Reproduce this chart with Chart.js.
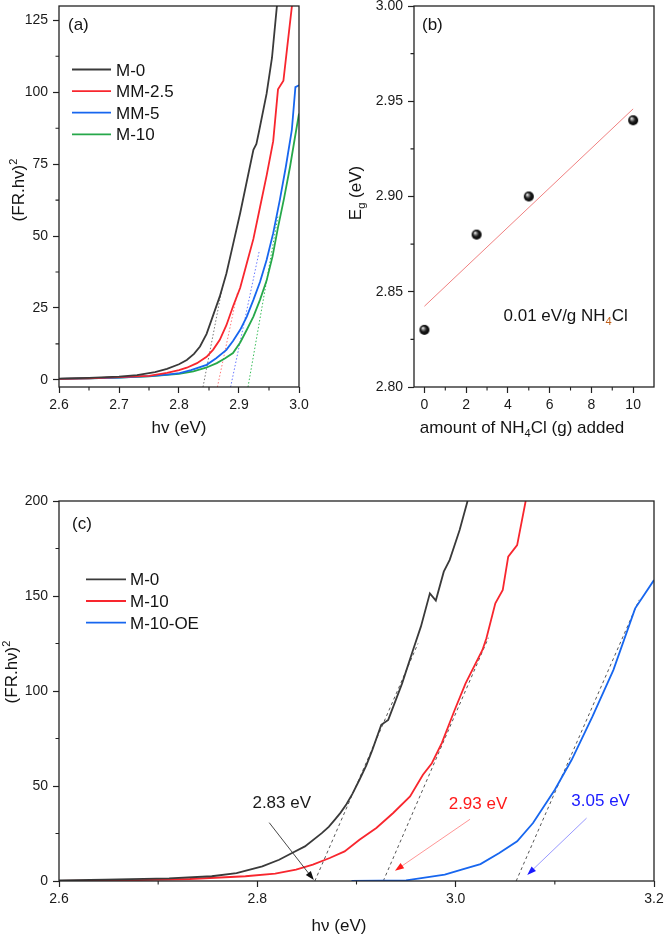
<!DOCTYPE html>
<html><head><meta charset="utf-8">
<script src="https://cdn.jsdelivr.net/npm/chart.js"></script>
<style>
html,body{margin:0;padding:0;background:#fff;}
#wrap{position:relative;width:664px;height:939px;overflow:hidden;background:#fff;}
canvas{position:absolute;}
</style></head><body>
<div id="wrap">
<canvas id="ca" width="332" height="440" style="left:0;top:0;width:332px;height:440px"></canvas>
<canvas id="cb" width="332" height="440" style="left:332px;top:0;width:332px;height:440px"></canvas>
<canvas id="cc" width="664" height="499" style="left:0;top:440px;width:664px;height:499px"></canvas>
</div>
<script>
// ================= DATA =================
// ---- Panel (a): (FR.hv)^2 vs hv ----
const aX_M0   = [2.600,2.650,2.700,2.730,2.760,2.780,2.800,2.813,2.825,2.835,2.846,2.857,2.868,2.879,2.890,2.902,2.914,2.924,2.929,2.933,2.946,2.955,2.963,2.970];
const aY_M0   = [0.4,0.7,1.1,1.6,2.7,3.8,5.4,6.9,9.0,11.6,16.0,22.5,29.0,37.0,47.0,58.0,70.0,80.0,82.0,86.0,99.5,112.0,129.6,140.0];
const aX_MM25 = [2.600,2.650,2.700,2.750,2.780,2.800,2.813,2.830,2.846,2.857,2.868,2.879,2.890,2.902,2.913,2.924,2.935,2.946,2.957,2.965,2.974,2.980,2.988,2.995];
const aY_MM25 = [0.3,0.5,0.9,1.4,2.4,3.4,4.2,5.8,8.0,10.5,13.9,19.0,25.5,32.0,40.5,49.0,60.0,71.0,83.0,101.0,104.0,115.0,129.6,140.0];
const aX_MM5  = [2.600,2.650,2.700,2.750,2.780,2.801,2.820,2.846,2.862,2.879,2.890,2.902,2.913,2.924,2.935,2.946,2.957,2.968,2.978,2.988,2.994,3.000];
const aY_MM5  = [0.3,0.5,0.8,1.3,1.8,2.3,3.4,5.2,7.5,10.4,13.5,17.4,22.0,27.8,34.0,41.7,51.0,62.5,74.0,86.8,101.8,102.4];
const aX_M10  = [2.600,2.650,2.700,2.750,2.800,2.824,2.845,2.863,2.877,2.890,2.902,2.913,2.924,2.935,2.946,2.956,2.965,2.975,2.985,2.993,3.000];
const aY_M10  = [0.3,0.5,0.8,1.2,2.1,2.9,4.2,5.8,7.5,9.3,13.0,17.4,22.0,27.8,34.5,43.0,53.0,63.0,74.0,84.0,92.6];
// linear extrapolation lines (a)
const aTanX_M0   = [2.840, 2.872]; const aTanY_M0   = [-2.5, 32];
const aTanX_MM25 = [2.864, 2.897]; const aTanY_MM25 = [-2.5, 30];
const aTanX_MM5  = [2.886, 2.934]; const aTanY_MM5  = [-2.5, 45];
const aTanX_M10  = [2.915, 2.965]; const aTanY_M10  = [-2.5, 57];
const aTicksX = [2.6,2.7,2.8,2.9,3.0];
const aMinorX = [2.65,2.75,2.85,2.95];
const aTicksY = [0,25,50,75,100,125];
const aMinorY = [12.5,37.5,62.5,87.5,112.5];
const aLabels = ['M-0','MM-2.5','MM-5','M-10'];

// ---- Panel (b): Eg vs amount of NH4Cl ----
const bAmount = [0, 2.5, 5, 10];
const bEg     = [2.83, 2.88, 2.90, 2.94];
const bFitX   = [0, 10];
const bFitY   = [2.8424, 2.946];
const bTicksX = [0,2,4,6,8,10];
const bMinorX = [1,3,5,7,9];
const bTicksY = [2.80,2.85,2.90,2.95,3.00];
const bMinorY = [2.825,2.875,2.925,2.975];

// ---- Panel (c): (FR.hν)^2 vs hν ----
const cX_M0   = [2.600,2.647,2.711,2.754,2.779,2.805,2.822,2.835,2.848,2.865,2.872,2.878,2.884,2.890,2.896,2.903,2.910,2.916,2.925,2.932,2.946,2.957,2.965,2.974,2.980,2.988,2.994,3.004,3.012];
const cY_M0   = [0.35,0.7,1.4,2.5,4.2,7.7,11.2,14.7,18.2,25.2,28.5,32.2,36.0,40.5,46.0,53.3,61.0,69.0,82.2,84.8,104.0,121.6,134.0,151.4,147.6,162.8,169.0,184.7,200.0];
const cX_M10  = [2.600,2.668,2.732,2.788,2.818,2.839,2.856,2.873,2.888,2.903,2.920,2.937,2.954,2.967,2.976,2.986,2.999,3.010,3.027,3.031,3.040,3.0475,3.053,3.062,3.0706];
const cY_M10  = [0.0,0.35,1.05,2.5,3.9,6.0,8.6,12.1,15.6,21.7,27.9,35.8,44.5,55.9,62.0,72.6,90.0,104.0,121.6,127.8,146.2,153.2,170.7,176.8,200.0];
const cX_OE   = [2.895,2.950,2.967,2.989,3.006,3.025,3.044,3.062,3.078,3.100,3.117,3.138,3.159,3.181,3.200];
const cY_OE   = [0.0,0.35,1.6,3.3,6.0,8.9,14.7,20.9,30.5,48.0,63.8,86.6,111.0,143.5,158.4];
const cTanX_M0  = [2.858, 2.962]; const cTanY_M0  = [0, 125];
const cTanX_M10 = [2.927, 3.033]; const cTanY_M10 = [0, 128];
const cTanX_OE  = [3.061, 3.185]; const cTanY_OE  = [0, 148];
// arrows: [x, y] start and tip in data units
const cArrowFrom = [[2.812, 30.7], [3.0145, 32.5], [3.132, 33.1]];
const cArrowTo   = [[2.857, 0.5],  [2.9388, 5.4],  [3.0722, 3.2]];
const cGapLabels = ['2.83 eV', '2.93 eV', '3.05 eV'];
const cGapLabelAt = [[2.8246, 41.7], [3.0225, 41.2], [3.1462, 42.6]];
const cTicksX = [2.6,2.8,3.0,3.2];
const cMinorX = [2.7,2.9,3.1];
const cTicksY = [0,50,100,150,200];
const cMinorY = [25,75,125,175];
const cLabels = ['M-0','M-10','M-10-OE'];

// ================= STYLE / HELPERS =================
const FAM = "'Liberation Sans', Arial, sans-serif";
Chart.defaults.font.family = FAM;
Chart.defaults.color = '#1a1a1a';
const COL = {k:'#3a3a3a', r:'#f8262e', b:'#1766ef', g:'#26a84a'};
const pts = (xs, ys) => xs.map((x, i) => ({x: x, y: ys[i]}));
function font(sz){ return sz + 'px ' + FAM; }

function curve(label, xs, ys, color, w) {
  return {label, data: pts(xs, ys), showLine: true, borderColor: color, backgroundColor: color,
          borderWidth: w || 1.8, pointRadius: 0, tension: 0, fill: false};
}
function dashed(xs, ys, color, dash, w) {
  return {label: '_tan', data: pts(xs, ys), showLine: true, borderColor: color, borderWidth: w || 1,
          borderDash: dash, pointRadius: 0, tension: 0, fill: false};
}
function axis(pos, min, max, ticks, fmt, size) {
  return {
    type: 'linear', position: pos, min: min, max: max,
    afterBuildTicks: s => { s.ticks = ticks.map(v => ({value: v})); },
    afterFit: s => {
      if (pos === 'bottom') s.height = size; else s.width = size;
      s.paddingTop = 0; s.paddingBottom = 0; s.paddingLeft = 0; s.paddingRight = 0;
    },
    grid: {display: true, drawOnChartArea: false, drawTicks: true, tickLength: 6,
           tickColor: '#222', tickWidth: 1.2, color: '#222'},
    border: {display: false},
    ticks: {padding: pos === 'bottom' ? 4 : 5, color: '#1a1a1a', font: {size: 14},
            maxRotation: 0, autoSkip: false, callback: v => fmt(v)},
    title: {display: false}
  };
}
function drawRich(ctx, segs, x, y, size, align, rot) {
  ctx.save(); ctx.translate(x, y); if (rot) ctx.rotate(rot);
  let w = 0;
  const parts = segs.map(s => {
    const sz = (s.sub || s.sup) ? size * 0.65 : size;
    ctx.font = font(sz);
    const mw = ctx.measureText(s.t).width; w += mw;
    return {s, sz, mw};
  });
  let cx = align === 'center' ? -w / 2 : (align === 'right' ? -w : 0);
  ctx.textBaseline = 'alphabetic'; ctx.textAlign = 'left';
  const base = size * 0.36;
  for (const p of parts) {
    ctx.font = font(p.sz); ctx.fillStyle = p.s.color || '#141414';
    const dy = p.s.sub ? size * 0.24 : (p.s.sup ? -size * 0.42 : 0);
    ctx.fillText(p.s.t, cx, base + dy); cx += p.mw;
  }
  ctx.restore();
}
function arrow(ctx, x1, y1, x2, y2, lineCol, headCol) {
  const a = Math.atan2(y2 - y1, x2 - x1), L = 9, W = 3.2;
  ctx.save();
  ctx.strokeStyle = lineCol; ctx.lineWidth = 0.9;
  ctx.beginPath(); ctx.moveTo(x1, y1);
  ctx.lineTo(x2 - Math.cos(a) * L * 0.8, y2 - Math.sin(a) * L * 0.8); ctx.stroke();
  ctx.fillStyle = headCol; ctx.beginPath();
  ctx.moveTo(x2, y2);
  ctx.lineTo(x2 - L * Math.cos(a) + W * Math.sin(a), y2 - L * Math.sin(a) - W * Math.cos(a));
  ctx.lineTo(x2 - L * Math.cos(a) - W * Math.sin(a), y2 - L * Math.sin(a) + W * Math.cos(a));
  ctx.closePath(); ctx.fill();
  ctx.restore();
}
function makeDeco(cfg) {
  return {
    id: 'deco',
    afterDatasetsDraw(chart) {
      const ctx = chart.ctx, ca = chart.chartArea, xs = chart.scales.x, ys = chart.scales.y;
      ctx.save();
      // frame
      ctx.strokeStyle = '#222'; ctx.lineWidth = 1.3;
      ctx.strokeRect(ca.left, ca.top, ca.right - ca.left, ca.bottom - ca.top);
      // minor ticks
      ctx.lineWidth = 1.1; ctx.beginPath();
      cfg.minorX.forEach(v => { const p = xs.getPixelForValue(v); ctx.moveTo(p, ca.bottom); ctx.lineTo(p, ca.bottom + 3.5); });
      cfg.minorY.forEach(v => { const p = ys.getPixelForValue(v); ctx.moveTo(ca.left, p); ctx.lineTo(ca.left - 3.5, p); });
      ctx.stroke();
      // arrows
      (cfg.arrows || []).forEach(a => {
        arrow(ctx, xs.getPixelForValue(a.from[0]), ys.getPixelForValue(a.from[1]),
              xs.getPixelForValue(a.to[0]), ys.getPixelForValue(a.to[1]), a.line, a.head);
      });
      // data-anchored texts
      (cfg.dataTexts || []).forEach(t => {
        drawRich(ctx, t.segs, xs.getPixelForValue(t.at[0]), ys.getPixelForValue(t.at[1]), t.size, t.align);
      });
      // pixel texts (titles, panel labels)
      (cfg.texts || []).forEach(t => drawRich(ctx, t.segs, t.x, t.y, t.size, t.align, t.rot));
      // legend
      if (cfg.legend) {
        const L = cfg.legend;
        L.items.forEach((di, i) => {
          const ds = chart.data.datasets[di]; const y = L.y0 + i * L.dy;
          ctx.strokeStyle = ds.borderColor; ctx.lineWidth = ds.borderWidth; ctx.setLineDash([]);
          ctx.beginPath(); ctx.moveTo(L.x1, y); ctx.lineTo(L.x2, y); ctx.stroke();
          drawRich(ctx, [{t: ds.label}], L.tx, y, L.size, 'left');
        });
      }
      ctx.restore();
    }
  };
}
const baseOpts = {responsive: false, animation: false, devicePixelRatio: 1,
  plugins: {legend: {display: false}, tooltip: {enabled: false}}};

// ================= PANEL (a) =================
new Chart(document.getElementById('ca'), {
  type: 'scatter',
  data: {datasets: [
    curve(aLabels[0], aX_M0, aY_M0, COL.k),
    curve(aLabels[1], aX_MM25, aY_MM25, COL.r),
    curve(aLabels[2], aX_MM5, aY_MM5, COL.b),
    curve(aLabels[3], aX_M10, aY_M10, COL.g),
    dashed(aTanX_M0, aTanY_M0, '#777', [1.5, 2]),
    dashed(aTanX_MM25, aTanY_MM25, '#f77', [1.5, 2]),
    dashed(aTanX_MM5, aTanY_MM5, '#67f', [1.5, 2]),
    dashed(aTanX_M10, aTanY_M10, '#3b5', [1.5, 2])
  ]},
  options: Object.assign({}, baseOpts, {
    layout: {padding: {left: 0, right: 33, top: 6, bottom: 0}},
    scales: {
      x: axis('bottom', 2.6, 3.0, aTicksX, v => v.toFixed(1), 53),
      y: axis('left', -2.5, 130, aTicksY, v => String(Math.round(v)), 59)
    }
  }),
  plugins: [makeDeco({
    minorX: aMinorX, minorY: aMinorY,
    texts: [
      {segs: [{t: '(a)'}], x: 68, y: 24, size: 17, align: 'left'},
      {segs: [{t: 'hv (eV)'}], x: 179, y: 427, size: 17, align: 'center'},
      {segs: [{t: '(FR.hv)'}, {t: '2', sup: true}], x: 18, y: 190, size: 17, align: 'center', rot: -Math.PI / 2}
    ],
    legend: {items: [0, 1, 2, 3], x1: 72, x2: 111, tx: 116, y0: 69.5, dy: 21.6, size: 17}
  })]
});

// ================= PANEL (b) =================
function makeSphere(r) {
  const c = document.createElement('canvas'); const s = Math.ceil(r * 2 + 2);
  c.width = s; c.height = s;
  const g = c.getContext('2d'); const cx = s / 2, cy = s / 2;
  const grad = g.createRadialGradient(cx - r * 0.35, cy - r * 0.4, 0.2, cx, cy, r);
  grad.addColorStop(0, '#ffffff'); grad.addColorStop(0.22, '#9a9a9a');
  grad.addColorStop(0.55, '#1e1e1e'); grad.addColorStop(1, '#000000');
  g.fillStyle = grad; g.beginPath(); g.arc(cx, cy, r, 0, Math.PI * 2); g.fill();
  return c;
}
new Chart(document.getElementById('cb'), {
  type: 'scatter',
  data: {datasets: [
    {label: 'fit', data: pts(bFitX, bFitY), showLine: true, borderColor: '#f08080', borderWidth: 1, pointRadius: 0},
    {label: 'Eg', data: pts(bAmount, bEg), showLine: false, pointStyle: makeSphere(5), pointRadius: 5}
  ]},
  options: Object.assign({}, baseOpts, {
    layout: {padding: {left: 0, right: 10, top: 6, bottom: 0}},
    scales: {
      x: axis('bottom', -0.5, 11, bTicksX, v => String(Math.round(v)), 53),
      y: axis('left', 2.80, 3.00, bTicksY, v => v.toFixed(2), 82)
    }
  }),
  plugins: [makeDeco({
    minorX: bMinorX, minorY: bMinorY,
    dataTexts: [
      {segs: [{t: '0.01 eV/g NH'}, {t: '4', sub: true, color: '#c0601a'}, {t: 'Cl'}], at: [3.79, 2.838], size: 17, align: 'left'}
    ],
    texts: [
      {segs: [{t: '(b)'}], x: 90, y: 24, size: 17, align: 'left'},
      {segs: [{t: 'amount of NH'}, {t: '4', sub: true}, {t: 'Cl (g) added'}], x: 190, y: 427, size: 17, align: 'center'},
      {segs: [{t: 'E'}, {t: 'g', sub: true}, {t: ' (eV)'}], x: 23, y: 193, size: 17, align: 'center', rot: -Math.PI / 2}
    ]
  })]
});

// ================= PANEL (c) =================
new Chart(document.getElementById('cc'), {
  type: 'scatter',
  data: {datasets: [
    curve(cLabels[0], cX_M0, cY_M0, COL.k),
    curve(cLabels[1], cX_M10, cY_M10, COL.r),
    curve(cLabels[2], cX_OE, cY_OE, COL.b),
    dashed(cTanX_M0, cTanY_M0, '#555', [3, 3]),
    dashed(cTanX_M10, cTanY_M10, '#555', [3, 3]),
    dashed(cTanX_OE, cTanY_OE, '#555', [3, 3])
  ]},
  options: Object.assign({}, baseOpts, {
    layout: {padding: {left: 0, right: 10, top: 61, bottom: 0}},
    scales: {
      x: axis('bottom', 2.6, 3.2, cTicksX, v => v.toFixed(1), 58),
      y: axis('left', 0, 200, cTicksY, v => String(Math.round(v)), 59)
    }
  }),
  plugins: [makeDeco({
    minorX: cMinorX, minorY: cMinorY,
    arrows: [
      {from: cArrowFrom[0], to: cArrowTo[0], line: '#333', head: '#111'},
      {from: cArrowFrom[1], to: cArrowTo[1], line: '#ff8a8a', head: '#ff1a1a'},
      {from: cArrowFrom[2], to: cArrowTo[2], line: '#8c8cff', head: '#1a1aff'}
    ],
    dataTexts: [
      {segs: [{t: cGapLabels[0], color: '#1a1a1a'}], at: cGapLabelAt[0], size: 17, align: 'center'},
      {segs: [{t: cGapLabels[1], color: '#ff1a1a'}], at: cGapLabelAt[1], size: 17, align: 'center'},
      {segs: [{t: cGapLabels[2], color: '#1a1aff'}], at: cGapLabelAt[2], size: 17, align: 'center'}
    ],
    texts: [
      {segs: [{t: '(c)'}], x: 72, y: 83, size: 17, align: 'left'},
      {segs: [{t: 'hν (eV)'}], x: 339, y: 485, size: 17, align: 'center'},
      {segs: [{t: '(FR.hν)'}, {t: '2', sup: true}], x: 11, y: 232, size: 17, align: 'center', rot: -Math.PI / 2}
    ],
    legend: {items: [0, 1, 2], x1: 86, x2: 126, tx: 130, y0: 139.3, dy: 21.7, size: 17}
  })]
});
</script>
</body></html>
